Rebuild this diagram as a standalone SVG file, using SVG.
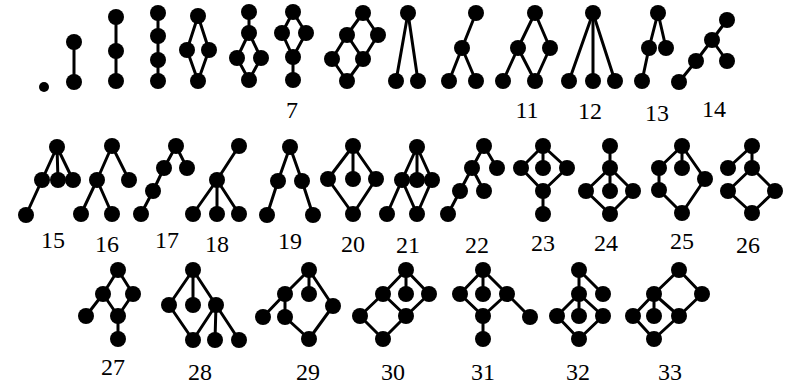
<svg xmlns="http://www.w3.org/2000/svg" width="789" height="385" viewBox="0 0 789 385">
<style>
.bg{fill:#fff}
.e line{stroke:#000;stroke-width:3;stroke-linecap:round}
.n circle{fill:#000}
text{font-family:"Liberation Serif","Times New Roman",serif;font-size:24px;fill:#000;text-anchor:middle}
</style>
<rect class="bg" x="0" y="0" width="789" height="385"/>
<g id="connectors" class="e">
<line x1="74" y1="42" x2="74" y2="82"/>
<line x1="116" y1="17" x2="116" y2="81"/>
<line x1="158" y1="13" x2="158" y2="81"/>
<line x1="198" y1="16" x2="187" y2="50"/><line x1="198" y1="16" x2="209" y2="50"/><line x1="187" y1="50" x2="198" y2="81"/><line x1="209" y1="50" x2="198" y2="81"/>
<line x1="249" y1="12" x2="249" y2="33"/><line x1="249" y1="33" x2="237" y2="58"/><line x1="249" y1="33" x2="261" y2="58"/><line x1="237" y1="58" x2="249" y2="80"/><line x1="261" y1="58" x2="249" y2="80"/>
<line x1="293" y1="12" x2="282" y2="33"/><line x1="293" y1="12" x2="306" y2="33"/><line x1="282" y1="33" x2="293" y2="57"/><line x1="306" y1="33" x2="293" y2="57"/><line x1="293" y1="57" x2="293" y2="80"/>
<line x1="363" y1="13" x2="347" y2="35"/><line x1="363" y1="13" x2="378" y2="35"/><line x1="347" y1="35" x2="332" y2="59"/><line x1="347" y1="35" x2="363" y2="59"/><line x1="378" y1="35" x2="363" y2="59"/><line x1="332" y1="59" x2="347" y2="81"/><line x1="363" y1="59" x2="347" y2="81"/>
<line x1="408" y1="13" x2="396" y2="81"/><line x1="408" y1="13" x2="418" y2="81"/>
<line x1="476" y1="13" x2="462" y2="48"/><line x1="462" y1="48" x2="449" y2="81"/><line x1="462" y1="48" x2="476" y2="81"/>
<line x1="535" y1="13" x2="518" y2="48"/><line x1="535" y1="13" x2="550" y2="48"/><line x1="518" y1="48" x2="503" y2="81"/><line x1="518" y1="48" x2="535" y2="81"/><line x1="550" y1="48" x2="535" y2="81"/>
<line x1="593" y1="13" x2="569" y2="81"/><line x1="593" y1="13" x2="593" y2="81"/><line x1="593" y1="13" x2="615" y2="81"/>
<line x1="658" y1="13" x2="649" y2="48"/><line x1="658" y1="13" x2="666" y2="48"/><line x1="649" y1="48" x2="642" y2="81"/>
<line x1="727" y1="20" x2="712" y2="40"/><line x1="712" y1="40" x2="727" y2="61"/><line x1="712" y1="40" x2="696" y2="61"/><line x1="696" y1="61" x2="679" y2="82"/>
<line x1="57" y1="147" x2="42" y2="180"/><line x1="57" y1="147" x2="58" y2="180"/><line x1="57" y1="147" x2="73" y2="180"/><line x1="42" y1="180" x2="26" y2="215"/>
<line x1="112" y1="146" x2="97" y2="180"/><line x1="112" y1="146" x2="129" y2="180"/><line x1="97" y1="180" x2="81" y2="214"/><line x1="97" y1="180" x2="112" y2="214"/>
<line x1="176" y1="146" x2="164" y2="168"/><line x1="176" y1="146" x2="187" y2="168"/><line x1="164" y1="168" x2="153" y2="191"/><line x1="153" y1="191" x2="141" y2="214"/>
<line x1="239" y1="146" x2="217" y2="180"/><line x1="217" y1="180" x2="193" y2="214"/><line x1="217" y1="180" x2="217" y2="214"/><line x1="217" y1="180" x2="239" y2="214"/>
<line x1="290" y1="147" x2="278" y2="181"/><line x1="290" y1="147" x2="302" y2="181"/><line x1="278" y1="181" x2="267" y2="215"/><line x1="302" y1="181" x2="313" y2="215"/>
<line x1="353" y1="146" x2="328" y2="179"/><line x1="353" y1="146" x2="353" y2="179"/><line x1="353" y1="146" x2="376" y2="179"/><line x1="328" y1="179" x2="353" y2="214"/><line x1="376" y1="179" x2="353" y2="214"/>
<line x1="417" y1="147" x2="402" y2="180"/><line x1="417" y1="147" x2="417" y2="180"/><line x1="417" y1="147" x2="432" y2="180"/><line x1="402" y1="180" x2="387" y2="214"/><line x1="402" y1="180" x2="417" y2="214"/><line x1="432" y1="180" x2="417" y2="214"/>
<line x1="484" y1="146" x2="472" y2="168"/><line x1="484" y1="146" x2="497" y2="168"/><line x1="472" y1="168" x2="460" y2="191"/><line x1="472" y1="168" x2="484" y2="191"/><line x1="460" y1="191" x2="448" y2="214"/>
<line x1="543" y1="146" x2="521" y2="168"/><line x1="543" y1="146" x2="543" y2="168"/><line x1="543" y1="146" x2="567" y2="168"/><line x1="521" y1="168" x2="543" y2="191"/><line x1="567" y1="168" x2="543" y2="191"/><line x1="543" y1="191" x2="543" y2="214"/>
<line x1="610" y1="146" x2="610" y2="168"/><line x1="610" y1="168" x2="586" y2="191"/><line x1="610" y1="168" x2="610" y2="191"/><line x1="610" y1="168" x2="633" y2="191"/><line x1="586" y1="191" x2="610" y2="214"/><line x1="633" y1="191" x2="610" y2="214"/>
<line x1="682" y1="146" x2="659" y2="168"/><line x1="682" y1="146" x2="682" y2="168"/><line x1="682" y1="146" x2="705" y2="179"/><line x1="659" y1="168" x2="659" y2="190"/><line x1="659" y1="190" x2="682" y2="213"/><line x1="705" y1="179" x2="682" y2="213"/>
<line x1="752" y1="146" x2="728" y2="168"/><line x1="752" y1="146" x2="752" y2="168"/><line x1="752" y1="168" x2="728" y2="191"/><line x1="752" y1="168" x2="775" y2="191"/><line x1="728" y1="191" x2="752" y2="213"/><line x1="775" y1="191" x2="752" y2="213"/>
<line x1="118" y1="270" x2="103" y2="294"/><line x1="118" y1="270" x2="133" y2="294"/><line x1="103" y1="294" x2="118" y2="316"/><line x1="133" y1="294" x2="118" y2="316"/><line x1="103" y1="294" x2="86" y2="316"/><line x1="118" y1="316" x2="118" y2="339"/>
<line x1="193" y1="270" x2="169" y2="305"/><line x1="193" y1="270" x2="193" y2="305"/><line x1="193" y1="270" x2="216" y2="305"/><line x1="169" y1="305" x2="193" y2="340"/><line x1="216" y1="305" x2="193" y2="340"/><line x1="216" y1="305" x2="215" y2="340"/><line x1="216" y1="305" x2="239" y2="340"/>
<line x1="309" y1="270" x2="285" y2="294"/><line x1="309" y1="270" x2="309" y2="294"/><line x1="309" y1="270" x2="333" y2="306"/><line x1="285" y1="294" x2="263" y2="317"/><line x1="285" y1="294" x2="285" y2="317"/><line x1="285" y1="317" x2="309" y2="339"/><line x1="333" y1="306" x2="309" y2="339"/>
<line x1="406" y1="270" x2="383" y2="294"/><line x1="406" y1="270" x2="406" y2="294"/><line x1="406" y1="270" x2="429" y2="294"/><line x1="383" y1="294" x2="406" y2="316"/><line x1="429" y1="294" x2="406" y2="316"/><line x1="383" y1="294" x2="360" y2="316"/><line x1="360" y1="316" x2="383" y2="339"/><line x1="406" y1="316" x2="383" y2="339"/>
<line x1="483" y1="270" x2="460" y2="294"/><line x1="483" y1="270" x2="483" y2="294"/><line x1="483" y1="270" x2="507" y2="294"/><line x1="460" y1="294" x2="483" y2="316"/><line x1="507" y1="294" x2="483" y2="316"/><line x1="483" y1="316" x2="483" y2="339"/><line x1="507" y1="294" x2="530" y2="317"/>
<line x1="579" y1="270" x2="579" y2="294"/><line x1="579" y1="270" x2="603" y2="294"/><line x1="579" y1="294" x2="557" y2="316"/><line x1="579" y1="294" x2="579" y2="316"/><line x1="579" y1="294" x2="603" y2="316"/><line x1="557" y1="316" x2="579" y2="339"/><line x1="603" y1="316" x2="579" y2="339"/>
<line x1="679" y1="270" x2="654" y2="294"/><line x1="679" y1="270" x2="702" y2="294"/><line x1="702" y1="294" x2="679" y2="316"/><line x1="654" y1="294" x2="679" y2="316"/><line x1="654" y1="294" x2="654" y2="316"/><line x1="654" y1="294" x2="633" y2="316"/><line x1="633" y1="316" x2="654" y2="339"/><line x1="679" y1="316" x2="654" y2="339"/>
</g>
<g id="g1" class="n"><circle cx="44" cy="87" r="5"/></g>
<g id="g2" class="n"><circle cx="74" cy="42" r="8"/><circle cx="74" cy="82" r="8"/></g>
<g id="g3" class="n"><circle cx="116" cy="17" r="8"/><circle cx="116" cy="51" r="8"/><circle cx="116" cy="81" r="8"/></g>
<g id="g4" class="n"><circle cx="158" cy="13" r="8"/><circle cx="158" cy="36" r="8"/><circle cx="158" cy="60" r="8"/><circle cx="158" cy="81" r="8"/></g>
<g id="g5" class="n"><circle cx="198" cy="16" r="8"/><circle cx="187" cy="50" r="8"/><circle cx="209" cy="50" r="8"/><circle cx="198" cy="81" r="8"/></g>
<g id="g6" class="n"><circle cx="249" cy="12" r="8"/><circle cx="249" cy="33" r="8"/><circle cx="237" cy="58" r="8"/><circle cx="261" cy="58" r="8"/><circle cx="249" cy="80" r="8"/></g>
<g id="g7" class="n"><circle cx="293" cy="12" r="8"/><circle cx="282" cy="33" r="8"/><circle cx="306" cy="33" r="8"/><circle cx="293" cy="57" r="8"/><circle cx="293" cy="80" r="8"/><text x="292" y="118">7</text></g>
<g id="g8" class="n"><circle cx="363" cy="13" r="8"/><circle cx="347" cy="35" r="8"/><circle cx="378" cy="35" r="8"/><circle cx="332" cy="59" r="8"/><circle cx="363" cy="59" r="8"/><circle cx="347" cy="81" r="8"/></g>
<g id="g9" class="n"><circle cx="408" cy="13" r="8"/><circle cx="396" cy="81" r="8"/><circle cx="418" cy="81" r="8"/></g>
<g id="g10" class="n"><circle cx="476" cy="13" r="8"/><circle cx="462" cy="48" r="8"/><circle cx="449" cy="81" r="8"/><circle cx="476" cy="81" r="8"/></g>
<g id="g11" class="n"><circle cx="535" cy="13" r="8"/><circle cx="518" cy="48" r="8"/><circle cx="550" cy="48" r="8"/><circle cx="503" cy="81" r="8"/><circle cx="535" cy="81" r="8"/><text x="527" y="118">11</text></g>
<g id="g12" class="n"><circle cx="593" cy="13" r="8"/><circle cx="569" cy="81" r="8"/><circle cx="593" cy="81" r="8"/><circle cx="615" cy="81" r="8"/><text x="590" y="119">12</text></g>
<g id="g13" class="n"><circle cx="658" cy="13" r="8"/><circle cx="649" cy="48" r="8"/><circle cx="666" cy="48" r="8"/><circle cx="642" cy="81" r="8"/><text x="657" y="121">13</text></g>
<g id="g14" class="n"><circle cx="727" cy="20" r="8"/><circle cx="712" cy="40" r="8"/><circle cx="727" cy="61" r="8"/><circle cx="696" cy="61" r="8"/><circle cx="679" cy="82" r="8"/><text x="714" y="117">14</text></g>
<g id="g15" class="n"><circle cx="57" cy="147" r="8"/><circle cx="42" cy="180" r="8"/><circle cx="58" cy="180" r="8"/><circle cx="73" cy="180" r="8"/><circle cx="26" cy="215" r="8"/><text x="53" y="248">15</text></g>
<g id="g16" class="n"><circle cx="112" cy="146" r="8"/><circle cx="97" cy="180" r="8"/><circle cx="129" cy="180" r="8"/><circle cx="81" cy="214" r="8"/><circle cx="112" cy="214" r="8"/><text x="107" y="252">16</text></g>
<g id="g17" class="n"><circle cx="176" cy="146" r="8"/><circle cx="164" cy="168" r="8"/><circle cx="187" cy="168" r="8"/><circle cx="153" cy="191" r="8"/><circle cx="141" cy="214" r="8"/><text x="167" y="248">17</text></g>
<g id="g18" class="n"><circle cx="239" cy="146" r="8"/><circle cx="217" cy="180" r="8"/><circle cx="193" cy="214" r="8"/><circle cx="217" cy="214" r="8"/><circle cx="239" cy="214" r="8"/><text x="217" y="252">18</text></g>
<g id="g19" class="n"><circle cx="290" cy="147" r="8"/><circle cx="278" cy="181" r="8"/><circle cx="302" cy="181" r="8"/><circle cx="267" cy="215" r="8"/><circle cx="313" cy="215" r="8"/><text x="290" y="249">19</text></g>
<g id="g20" class="n"><circle cx="353" cy="146" r="8"/><circle cx="328" cy="179" r="8"/><circle cx="353" cy="179" r="8"/><circle cx="376" cy="179" r="8"/><circle cx="353" cy="214" r="8"/><text x="353" y="252">20</text></g>
<g id="g21" class="n"><circle cx="417" cy="147" r="8"/><circle cx="402" cy="180" r="8"/><circle cx="417" cy="180" r="8"/><circle cx="432" cy="180" r="8"/><circle cx="387" cy="214" r="8"/><circle cx="417" cy="214" r="8"/><text x="408" y="253">21</text></g>
<g id="g22" class="n"><circle cx="484" cy="146" r="8"/><circle cx="472" cy="168" r="8"/><circle cx="497" cy="168" r="8"/><circle cx="460" cy="191" r="8"/><circle cx="484" cy="191" r="8"/><circle cx="448" cy="214" r="8"/><text x="477" y="253">22</text></g>
<g id="g23" class="n"><circle cx="543" cy="146" r="8"/><circle cx="521" cy="168" r="8"/><circle cx="543" cy="168" r="8"/><circle cx="567" cy="168" r="8"/><circle cx="543" cy="191" r="8"/><circle cx="543" cy="214" r="8"/><text x="543" y="251">23</text></g>
<g id="g24" class="n"><circle cx="610" cy="146" r="8"/><circle cx="610" cy="168" r="8"/><circle cx="586" cy="191" r="8"/><circle cx="610" cy="191" r="8"/><circle cx="633" cy="191" r="8"/><circle cx="610" cy="214" r="8"/><text x="606" y="251">24</text></g>
<g id="g25" class="n"><circle cx="682" cy="146" r="8"/><circle cx="659" cy="168" r="8"/><circle cx="682" cy="168" r="8"/><circle cx="705" cy="179" r="8"/><circle cx="659" cy="190" r="8"/><circle cx="682" cy="213" r="8"/><text x="682" y="249">25</text></g>
<g id="g26" class="n"><circle cx="752" cy="146" r="8"/><circle cx="728" cy="168" r="8"/><circle cx="752" cy="168" r="8"/><circle cx="728" cy="191" r="8"/><circle cx="775" cy="191" r="8"/><circle cx="752" cy="213" r="8"/><text x="748" y="253">26</text></g>
<g id="g27" class="n"><circle cx="118" cy="270" r="8"/><circle cx="103" cy="294" r="8"/><circle cx="133" cy="294" r="8"/><circle cx="118" cy="316" r="8"/><circle cx="86" cy="316" r="8"/><circle cx="118" cy="339" r="8"/><text x="113" y="375">27</text></g>
<g id="g28" class="n"><circle cx="193" cy="270" r="8"/><circle cx="169" cy="305" r="8"/><circle cx="193" cy="305" r="8"/><circle cx="216" cy="305" r="8"/><circle cx="193" cy="340" r="8"/><circle cx="215" cy="340" r="8"/><circle cx="239" cy="340" r="8"/><text x="200" y="380">28</text></g>
<g id="g29" class="n"><circle cx="309" cy="270" r="8"/><circle cx="285" cy="294" r="8"/><circle cx="309" cy="294" r="8"/><circle cx="333" cy="306" r="8"/><circle cx="263" cy="317" r="8"/><circle cx="285" cy="317" r="8"/><circle cx="309" cy="339" r="8"/><text x="308" y="380">29</text></g>
<g id="g30" class="n"><circle cx="406" cy="270" r="8"/><circle cx="383" cy="294" r="8"/><circle cx="406" cy="294" r="8"/><circle cx="429" cy="294" r="8"/><circle cx="406" cy="316" r="8"/><circle cx="360" cy="316" r="8"/><circle cx="383" cy="339" r="8"/><text x="393" y="380">30</text></g>
<g id="g31" class="n"><circle cx="483" cy="270" r="8"/><circle cx="460" cy="294" r="8"/><circle cx="483" cy="294" r="8"/><circle cx="507" cy="294" r="8"/><circle cx="483" cy="316" r="8"/><circle cx="483" cy="339" r="8"/><circle cx="530" cy="317" r="8"/><text x="483" y="380">31</text></g>
<g id="g32" class="n"><circle cx="579" cy="270" r="8"/><circle cx="579" cy="294" r="8"/><circle cx="603" cy="294" r="8"/><circle cx="557" cy="316" r="8"/><circle cx="579" cy="316" r="8"/><circle cx="603" cy="316" r="8"/><circle cx="579" cy="339" r="8"/><text x="578" y="380">32</text></g>
<g id="g33" class="n"><circle cx="679" cy="270" r="8"/><circle cx="654" cy="294" r="8"/><circle cx="702" cy="294" r="8"/><circle cx="633" cy="316" r="8"/><circle cx="654" cy="316" r="8"/><circle cx="679" cy="316" r="8"/><circle cx="654" cy="339" r="8"/><text x="670" y="380">33</text></g>
</svg>
